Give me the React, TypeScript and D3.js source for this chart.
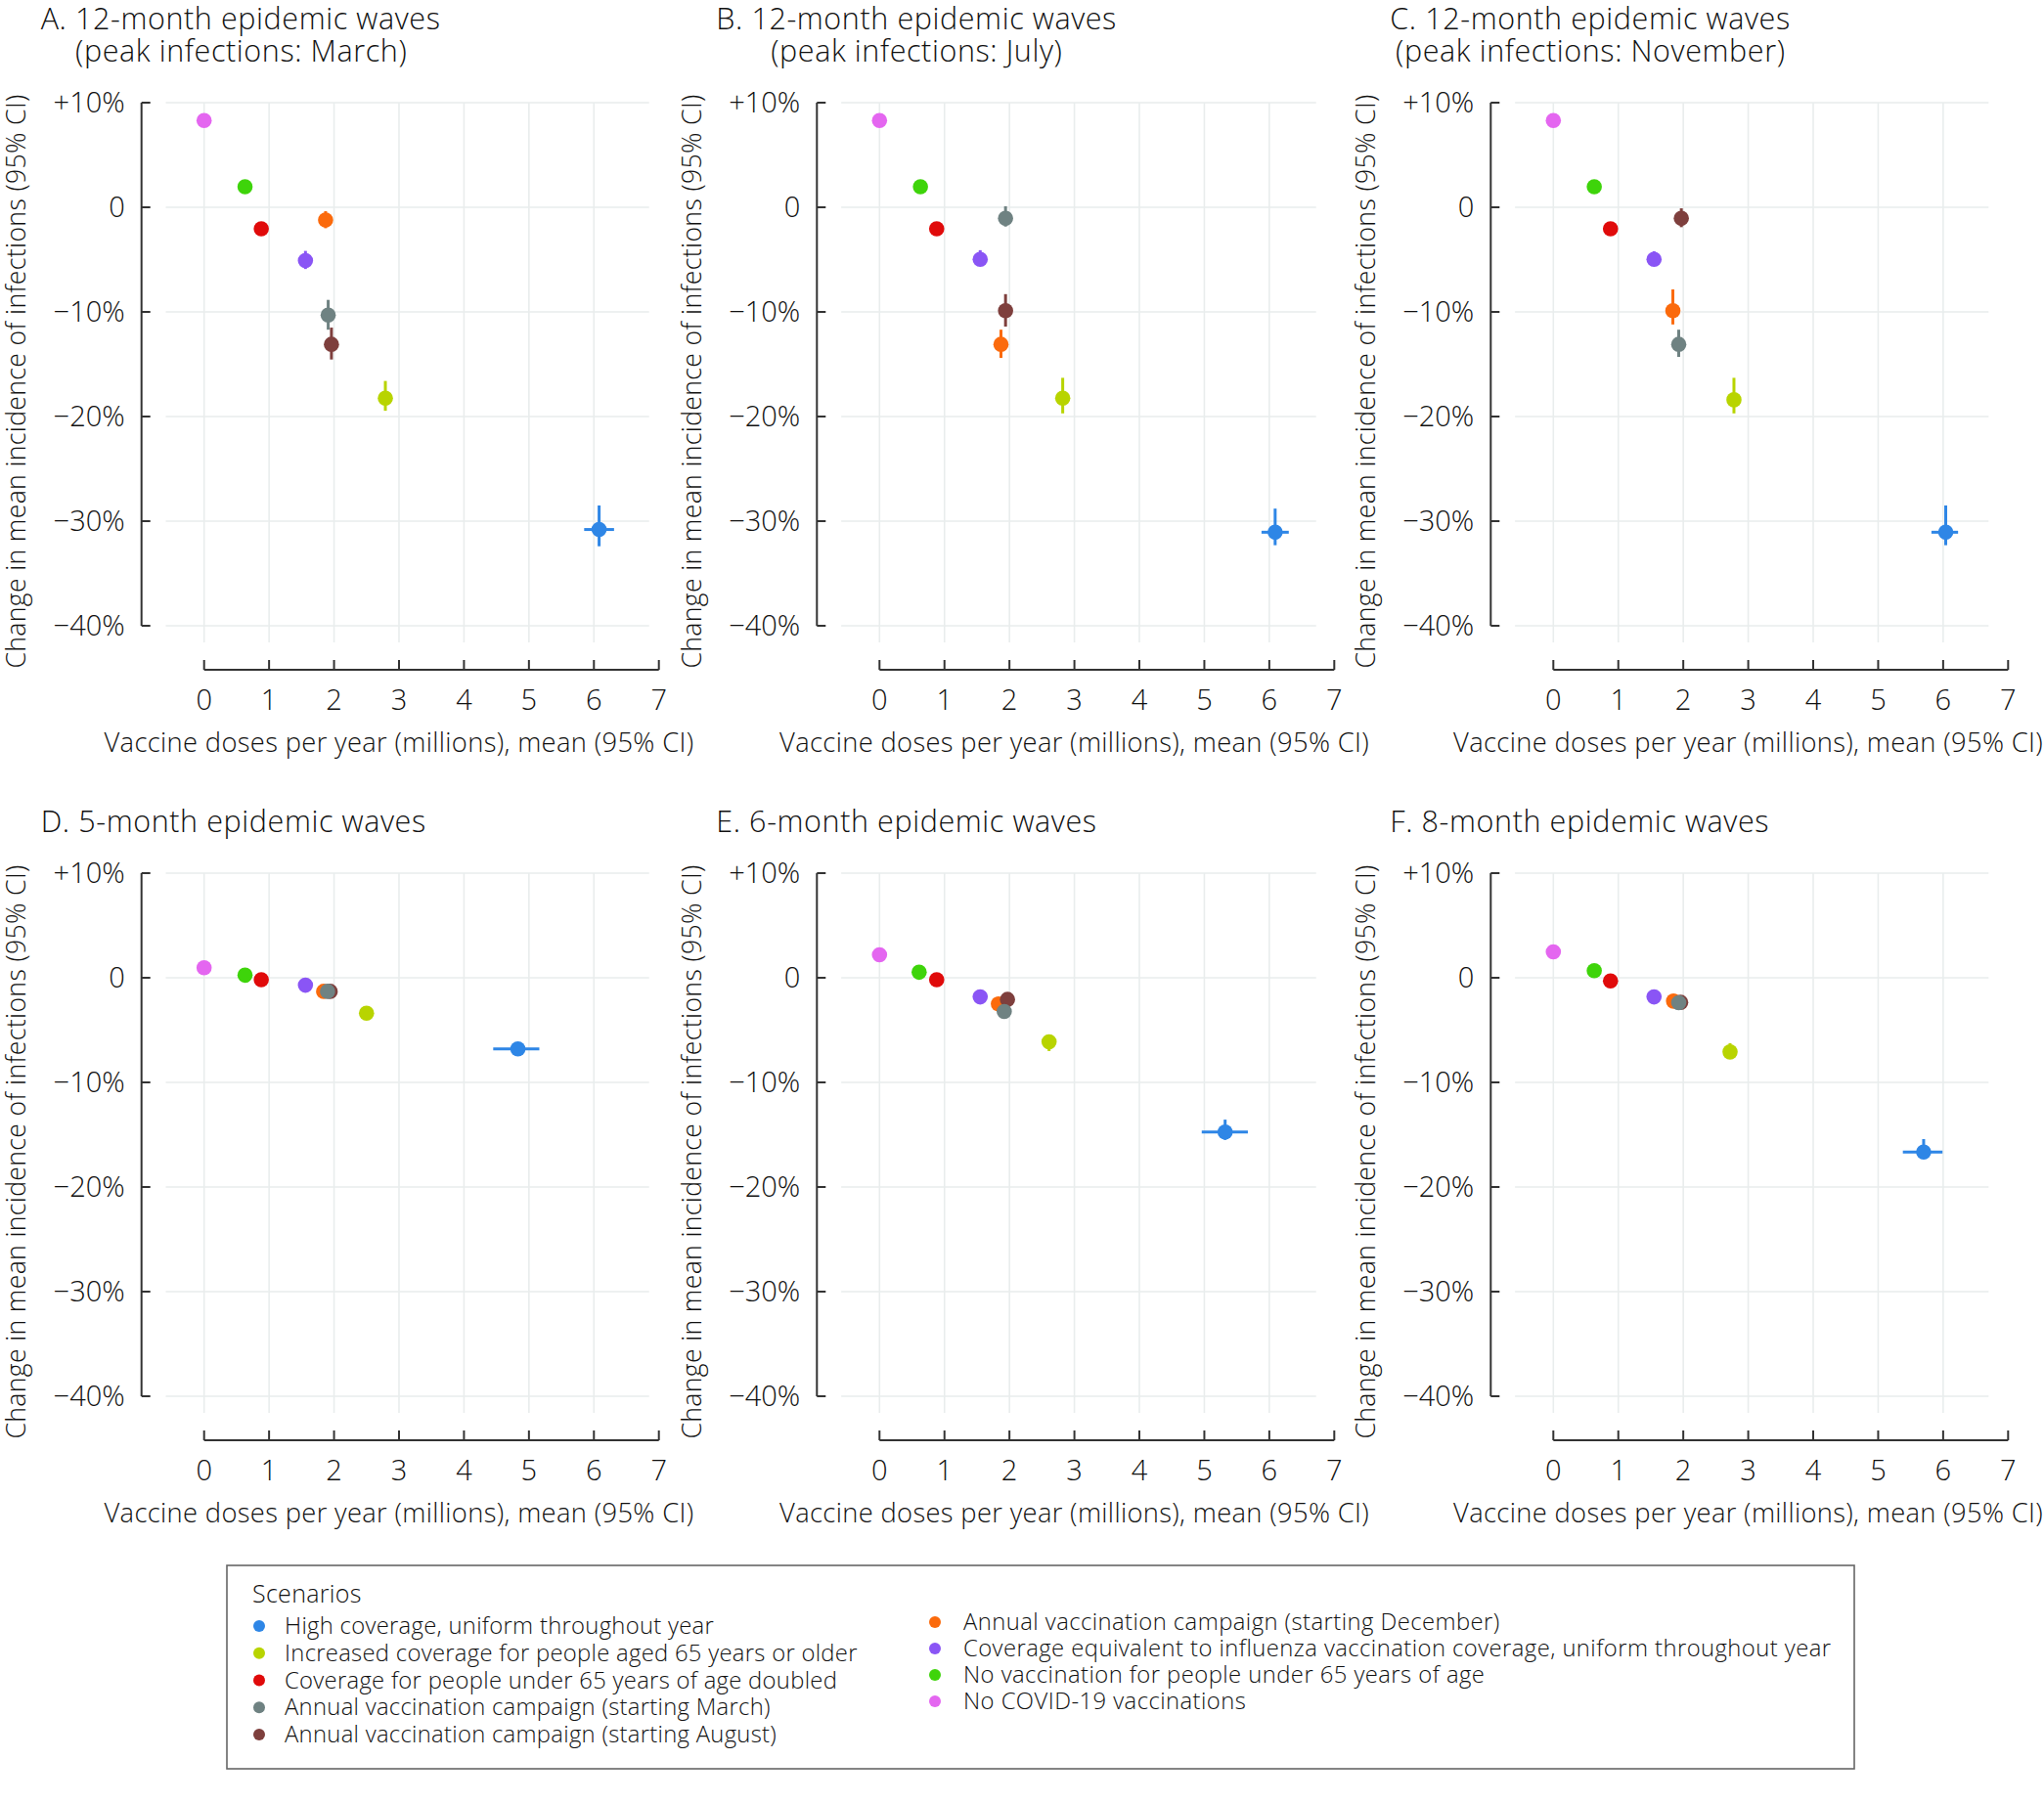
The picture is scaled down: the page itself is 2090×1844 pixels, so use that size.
import React from "react";
import * as d3 from "d3";

// ---------- data ----------
const scenarios = [
  "High coverage, uniform throughout year",
  "Increased coverage for people aged 65 years or older",
  "Coverage for people under 65 years of age doubled",
  "Annual vaccination campaign (starting March)",
  "Annual vaccination campaign (starting August)",
  "Annual vaccination campaign (starting December)",
  "Coverage equivalent to influenza vaccination coverage, uniform throughout year",
  "No vaccination for people under 65 years of age",
  "No COVID-19 vaccinations",
];
const colors = [
  "#2e86e6", "#b8d400", "#e00a0a", "#6f8282", "#7e3f3d",
  "#fb6a0c", "#8a55f5", "#3ed40a", "#e466f0",
];
// drawing order (later on top)
const drawOrder = [8, 7, 6, 5, 4, 3, 2, 1, 0];

const titleLine1 = [
  "A. 12-month epidemic waves",
  "B. 12-month epidemic waves",
  "C. 12-month epidemic waves",
  "D. 5-month epidemic waves",
  "E. 6-month epidemic waves",
  "F. 8-month epidemic waves",
];
const titleLine2 = [
  "(peak infections: March)",
  "(peak infections: July)",
  "(peak infections: November)",
  "", "", "",
];

const yTicks = [10, 0, -10, -20, -30, -40];
const yTickLabels = ["+10%", "0", "\u221210%", "\u221220%", "\u221230%", "\u221240%"];
const xTicks = [0, 1, 2, 3, 4, 5, 6, 7];
const xTickLabels = ["0", "1", "2", "3", "4", "5", "6", "7"];

// rows per scenario: [doses, change, changeLo, changeHi, dosesLo, dosesHi]
const panelA = [
  [6.08, -30.8, -32.4, -28.5, 5.85, 6.31],
  [2.79, -18.25, -19.45, -16.6, 2.77, 2.81],
  [0.88, -2.06, -2.5, -1.6, 0.87, 0.89],
  [1.91, -10.3, -11.7, -8.85, 1.9, 1.92],
  [1.96, -13.1, -14.55, -11.5, 1.95, 1.97],
  [1.87, -1.21, -2.0, -0.37, 1.86, 1.88],
  [1.56, -5.1, -5.9, -4.17, 1.55, 1.57],
  [0.63, 1.96, 1.5, 2.4, 0.62, 0.64],
  [0.0, 8.29, 7.9, 8.7, 0.0, 0.0],
];
const panelB = [
  [6.09, -31.06, -32.3, -28.8, 5.88, 6.3],
  [2.82, -18.25, -19.7, -16.3, 2.8, 2.84],
  [0.88, -2.06, -2.5, -1.6, 0.87, 0.89],
  [1.94, -1.06, -1.84, 0.1, 1.93, 1.95],
  [1.94, -9.88, -11.4, -8.3, 1.93, 1.95],
  [1.87, -13.1, -14.4, -11.7, 1.86, 1.88],
  [1.55, -4.98, -5.3, -4.1, 1.54, 1.56],
  [0.63, 1.96, 1.5, 2.4, 0.62, 0.64],
  [0.0, 8.3, 7.9, 8.7, 0.0, 0.0],
];
const panelC = [
  [6.04, -31.06, -32.3, -28.5, 5.82, 6.23],
  [2.78, -18.4, -19.7, -16.3, 2.76, 2.8],
  [0.88, -2.06, -2.5, -1.6, 0.87, 0.89],
  [1.93, -13.1, -14.3, -11.7, 1.92, 1.94],
  [1.97, -1.06, -1.9, -0.1, 1.96, 1.98],
  [1.84, -9.88, -11.2, -7.85, 1.83, 1.85],
  [1.55, -4.98, -5.3, -4.2, 1.54, 1.56],
  [0.63, 1.96, 1.5, 2.4, 0.62, 0.64],
  [0.0, 8.3, 7.9, 8.7, 0.0, 0.0],
];
const panelD = [
  [4.83, -6.8, -7.3, -6.3, 4.45, 5.16],
  [2.5, -3.39, -3.9, -2.9, 2.48, 2.52],
  [0.88, -0.19, -0.5, 0.1, 0.87, 0.89],
  [1.9, -1.3, -1.6, -1.0, 1.89, 1.91],
  [1.94, -1.3, -1.6, -1.0, 1.93, 1.95],
  [1.84, -1.3, -1.6, -1.0, 1.83, 1.85],
  [1.56, -0.71, -1.0, -0.4, 1.55, 1.57],
  [0.63, 0.25, 0.0, 0.5, 0.62, 0.64],
  [0.0, 0.96, 0.7, 1.2, 0.0, 0.0],
];
const panelE = [
  [5.32, -14.74, -15.5, -13.56, 4.96, 5.67],
  [2.61, -6.13, -7.0, -5.6, 2.59, 2.63],
  [0.88, -0.19, -0.5, 0.1, 0.87, 0.89],
  [1.92, -3.22, -3.6, -2.9, 1.91, 1.93],
  [1.97, -2.07, -2.4, -1.8, 1.96, 1.98],
  [1.83, -2.5, -2.8, -2.2, 1.82, 1.84],
  [1.55, -1.83, -2.1, -1.5, 1.54, 1.56],
  [0.61, 0.53, 0.3, 0.8, 0.6, 0.62],
  [0.0, 2.2, 1.9, 2.5, 0.0, 0.0],
];
const panelF = [
  [5.7, -16.66, -17.3, -15.42, 5.38, 5.99],
  [2.72, -7.09, -7.6, -6.25, 2.7, 2.74],
  [0.88, -0.31, -0.6, 0.0, 0.87, 0.89],
  [1.93, -2.38, -2.7, -2.1, 1.92, 1.94],
  [1.96, -2.35, -2.65, -2.05, 1.95, 1.97],
  [1.85, -2.23, -2.5, -1.95, 1.84, 1.86],
  [1.55, -1.83, -2.1, -1.55, 1.54, 1.56],
  [0.63, 0.68, 0.4, 0.95, 0.62, 0.64],
  [0.0, 2.48, 2.2, 2.75, 0.0, 0.0],
];
const panels = [panelA, panelB, panelC, panelD, panelE, panelF];

const yAxisTitle = "Change in mean incidence of infections (95% CI)";
const xAxisTitle = "Vaccine doses per year (millions), mean (95% CI)";
const legendTitle = "Scenarios";

// ---------- layout ----------
const W = 2090;
const H = 1844;
const FONT = "'Open Sans', 'Noto Sans', sans-serif";
const WEIGHT = 300;
const TEXT = "#111";
const colOffset = [0, 690.6, 1379.6];
const rowOffset = [0, 788];
const gridRight = [6.85, 6.72, 6.7];

function Panel({ idx }: { idx: number }) {
  const col = idx % 3;
  const row = Math.floor(idx / 3);
  const ox = colOffset[col];
  const oy = rowOffset[row];
  const x = d3.scaleLinear().domain([0, 7]).range([208.7, 208.7 + 465]);
  const y = d3.scaleLinear().domain([10, -40]).range([105, 640]);
  const data = panels[idx];
  const axisX = x(0) - 64;
  const axisY = y(-40) + 45;
  const twoLine = titleLine2[idx] !== "";
  const t1x = x(0) - 167;
  const titleStyle = { letterSpacing: "0.6px" };
  const TS = 30.5;
  return (
    <g transform={`translate(${ox},${oy})`} fontWeight={WEIGHT}>
      {/* titles */}
      {twoLine ? (
        <>
          <text x={t1x} y={30} fontSize={TS} fill={TEXT} fontFamily={FONT} style={titleStyle}>
            {titleLine1[idx]}
          </text>
          <text x={x(0) + 38} y={63} fontSize={TS} fill={TEXT} fontFamily={FONT} textAnchor="middle"
            style={titleStyle}>
            {titleLine2[idx]}
          </text>
        </>
      ) : (
        <text x={t1x} y={63} fontSize={TS} fill={TEXT} fontFamily={FONT} style={titleStyle}>
          {titleLine1[idx]}
        </text>
      )}
      {/* grid */}
      {yTicks.map((t) => (
        <line key={"gh" + t} x1={x(-0.59)} x2={x(gridRight[col])} y1={y(t)} y2={y(t)}
          stroke="#e9eded" strokeWidth={1.6} />
      ))}
      {xTicks.filter((t) => t <= 6).map((t) => (
        <line key={"gv" + t} x1={x(t)} x2={x(t)} y1={y(10)} y2={y(-41.6)}
          stroke="#e9eded" strokeWidth={1.6} />
      ))}
      {/* y axis */}
      <line x1={axisX} x2={axisX} y1={y(10)} y2={y(-40)} stroke="#333" strokeWidth={2} />
      {yTicks.map((t, i) => (
        <g key={"yt" + t}>
          <line x1={axisX} x2={axisX + 9} y1={y(t)} y2={y(t)} stroke="#333" strokeWidth={2} />
          <text x={axisX - 17} y={y(t) + 10} fontSize={29} fill={TEXT} fontFamily={FONT} textAnchor="end">
            {yTickLabels[i]}
          </text>
        </g>
      ))}
      <text transform={`translate(26,390) rotate(-90)`} fontSize={26.6} fill={TEXT} fontFamily={FONT}
        textAnchor="middle" style={{ letterSpacing: "0.35px" }}>
        {yAxisTitle}
      </text>
      {/* x axis */}
      <line x1={x(0)} x2={x(7)} y1={axisY} y2={axisY} stroke="#333" strokeWidth={2} />
      {xTicks.map((t, i) => (
        <g key={"xt" + t}>
          <line x1={x(t)} x2={x(t)} y1={axisY} y2={axisY - 10} stroke="#333" strokeWidth={2} />
          <text x={x(t)} y={axisY + 41} fontSize={29} fill={TEXT} fontFamily={FONT} textAnchor="middle">
            {xTickLabels[i]}
          </text>
        </g>
      ))}
      <text x={x(3)} y={axisY + 84} fontSize={27.3} fill={TEXT} fontFamily={FONT} textAnchor="middle"
        style={{ letterSpacing: "0.35px" }}>
        {xAxisTitle}
      </text>
      {/* points */}
      {drawOrder.map((s) => {
        const [dx, dy, lo, hi, xlo, xhi] = data[s];
        return (
          <g key={"p" + s}>
            <line x1={x(dx)} x2={x(dx)} y1={y(lo)} y2={y(hi)} stroke={colors[s]} strokeWidth={3} />
            <line x1={x(xlo)} x2={x(xhi)} y1={y(dy)} y2={y(dy)} stroke={colors[s]} strokeWidth={3} />
            <circle cx={x(dx)} cy={y(dy)} r={7.8} fill={colors[s]} />
          </g>
        );
      })}
    </g>
  );
}

function Legend() {
  const left = [0, 1, 2, 3, 4];
  const right = [5, 6, 7, 8];
  const leftY = d3.scaleLinear().domain([0, 4]).range([1663, 1774]);
  const rightY = d3.scaleLinear().domain([0, 3]).range([1659, 1740]);
  const st = { letterSpacing: "0.3px" };
  return (
    <g fontWeight={WEIGHT}>
      <rect x={232} y={1601} width={1664} height={208} fill="none" stroke="#666" strokeWidth={1.6} />
      <text x={258} y={1639} fontSize={25} fill={TEXT} fontFamily={FONT} style={st}>{legendTitle}</text>
      {left.map((s, i) => (
        <g key={"l" + s}>
          <circle cx={265} cy={leftY(i)} r={6} fill={colors[s]} />
          <text x={291} y={leftY(i) + 8} fontSize={23.8} fill={TEXT} fontFamily={FONT} style={st}>
            {scenarios[s]}
          </text>
        </g>
      ))}
      {right.map((s, i) => (
        <g key={"r" + s}>
          <circle cx={956} cy={rightY(i)} r={6} fill={colors[s]} />
          <text x={985} y={rightY(i) + 8} fontSize={23.8} fill={TEXT} fontFamily={FONT}
            style={{ letterSpacing: "0.45px" }}>
            {scenarios[s]}
          </text>
        </g>
      ))}
    </g>
  );
}

export default function App() {
  return (
    <svg width={W} height={H} viewBox={`0 0 ${W} ${H}`}
      style={{ position: "absolute", left: 0, top: 0, background: "#fff" }}>
      <rect x={0} y={0} width={W} height={H} fill="#fff" />
      {[0, 1, 2, 3, 4, 5].map((i) => <Panel key={i} idx={i} />)}
      <Legend />
    </svg>
  );
}
